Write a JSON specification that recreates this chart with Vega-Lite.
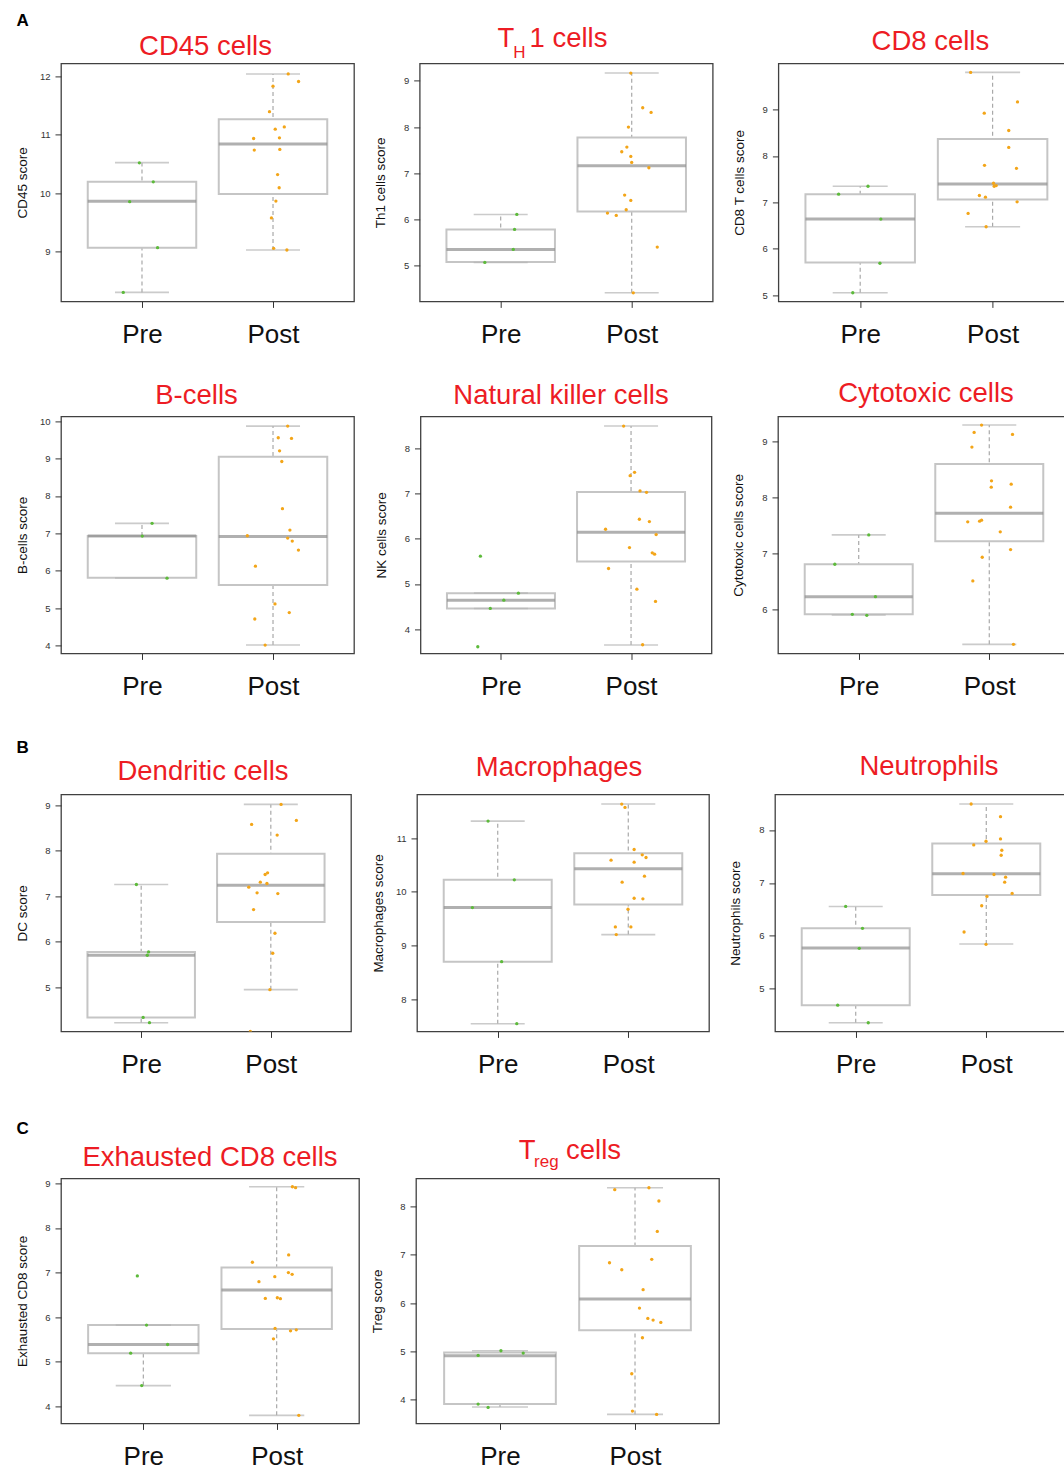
{
"$schema": "https://vega.github.io/schema/vega-lite/v6.json",
"background": "white",
"padding": {"left": 14, "top": 11.4, "right": 0, "bottom": 0},
"config": {
  "font": "Liberation Sans",
  "view": {"stroke": "#404040", "strokeWidth": 1.3},
  "axis": {"grid": false, "domain": false, "tickColor": "#333333", "tickSize": 6, "labelColor": "#333333"},
  "axisX": {"labelFontSize": 26, "labelColor": "#111111", "labelBaseline": "alphabetic", "labelPadding": 35, "labelFlush": false, "labelAngle": 0, "labelOverlap": false},
  "axisY": {"labelFontSize": 9.5, "labelPadding": 5, "labelOverlap": false, "format": "d", "titleFontSize": 13.5, "titleFontWeight": "normal", "titleColor": "#111111", "titleX": -35, "titleBaseline": "alphabetic"},
  "title": {"fontSize": 27.5, "color": "#ED1C24", "fontWeight": "normal", "anchor": "middle", "frame": "group", "baseline": "alphabetic"},
  "rule": {"color": "#a9a9a9", "strokeDash": [4, 3], "strokeWidth": 1.2},
  "bar": {"color": "#ffffff", "stroke": "#c5c5c5", "strokeWidth": 2},
  "tick": {"color": "#b5b5b5", "thickness": 1.6},
  "circle": {"size": 11, "opacity": 1}
},
"datasets": {
"pts": [
{"p":"CD45","g":"Pre","x":0.98,"v":10.52},{"p":"CD45","g":"Pre","x":1.086,"v":10.195},{"p":"CD45","g":"Pre","x":0.906,"v":9.856},{"p":"CD45","g":"Pre","x":1.119,"v":9.068},{"p":"CD45","g":"Pre","x":0.857,"v":8.304},
{"p":"CD45","g":"Post","x":2.116,"v":12.04},{"p":"CD45","g":"Post","x":2.195,"v":11.91},{"p":"CD45","g":"Post","x":2.0,"v":11.83},{"p":"CD45","g":"Post","x":1.973,"v":11.395},{"p":"CD45","g":"Post","x":2.017,"v":11.095},{"p":"CD45","g":"Post","x":2.086,"v":11.134},{"p":"CD45","g":"Post","x":1.852,"v":10.936},{"p":"CD45","g":"Post","x":2.049,"v":10.947},{"p":"CD45","g":"Post","x":1.857,"v":10.738},{"p":"CD45","g":"Post","x":2.052,"v":10.749},{"p":"CD45","g":"Post","x":2.035,"v":10.319},{"p":"CD45","g":"Post","x":2.047,"v":10.093},{"p":"CD45","g":"Post","x":2.022,"v":9.866},{"p":"CD45","g":"Post","x":1.988,"v":9.578},{"p":"CD45","g":"Post","x":2.005,"v":9.057},{"p":"CD45","g":"Post","x":2.106,"v":9.029},
{"p":"TH1","g":"Pre","x":1.123,"v":6.11},{"p":"TH1","g":"Pre","x":1.106,"v":5.786},{"p":"TH1","g":"Pre","x":1.096,"v":5.353},{"p":"TH1","g":"Pre","x":0.879,"v":5.072},
{"p":"TH1","g":"Post","x":1.993,"v":9.166},{"p":"TH1","g":"Post","x":2.084,"v":8.416},{"p":"TH1","g":"Post","x":2.148,"v":8.315},{"p":"TH1","g":"Post","x":1.975,"v":7.998},{"p":"TH1","g":"Post","x":1.963,"v":7.566},{"p":"TH1","g":"Post","x":1.924,"v":7.465},{"p":"TH1","g":"Post","x":1.993,"v":7.364},{"p":"TH1","g":"Post","x":2.0,"v":7.234},{"p":"TH1","g":"Post","x":2.131,"v":7.119},{"p":"TH1","g":"Post","x":1.946,"v":6.528},{"p":"TH1","g":"Post","x":1.993,"v":6.413},{"p":"TH1","g":"Post","x":1.958,"v":6.211},{"p":"TH1","g":"Post","x":1.815,"v":6.139},{"p":"TH1","g":"Post","x":1.882,"v":6.088},{"p":"TH1","g":"Post","x":2.195,"v":5.404},{"p":"TH1","g":"Post","x":2.012,"v":4.416},
{"p":"CD8","g":"Pre","x":1.059,"v":7.347},{"p":"CD8","g":"Pre","x":0.837,"v":7.175},{"p":"CD8","g":"Pre","x":1.156,"v":6.639},{"p":"CD8","g":"Pre","x":1.149,"v":5.687},{"p":"CD8","g":"Pre","x":0.944,"v":5.05},
{"p":"CD8","g":"Post","x":1.834,"v":9.801},{"p":"CD8","g":"Post","x":2.188,"v":9.165},{"p":"CD8","g":"Post","x":1.937,"v":8.921},{"p":"CD8","g":"Post","x":2.122,"v":8.549},{"p":"CD8","g":"Post","x":2.122,"v":8.184},{"p":"CD8","g":"Post","x":1.939,"v":7.798},{"p":"CD8","g":"Post","x":2.18,"v":7.733},{"p":"CD8","g":"Post","x":2.007,"v":7.411},{"p":"CD8","g":"Post","x":2.027,"v":7.361},{"p":"CD8","g":"Post","x":2.012,"v":7.347},{"p":"CD8","g":"Post","x":1.9,"v":7.147},{"p":"CD8","g":"Post","x":1.946,"v":7.111},{"p":"CD8","g":"Post","x":2.185,"v":7.011},{"p":"CD8","g":"Post","x":1.815,"v":6.76},{"p":"CD8","g":"Post","x":1.951,"v":6.474},
{"p":"B","g":"Pre","x":1.077,"v":7.268},{"p":"B","g":"Pre","x":1.002,"v":6.929},{"p":"B","g":"Pre","x":1.191,"v":5.804},
{"p":"B","g":"Post","x":2.112,"v":9.866},{"p":"B","g":"Post","x":2.04,"v":9.554},{"p":"B","g":"Post","x":2.141,"v":9.536},{"p":"B","g":"Post","x":2.05,"v":9.205},{"p":"B","g":"Post","x":2.067,"v":8.92},{"p":"B","g":"Post","x":2.072,"v":7.661},{"p":"B","g":"Post","x":2.129,"v":7.089},{"p":"B","g":"Post","x":1.804,"v":6.938},{"p":"B","g":"Post","x":2.112,"v":6.875},{"p":"B","g":"Post","x":2.147,"v":6.795},{"p":"B","g":"Post","x":2.194,"v":6.554},{"p":"B","g":"Post","x":1.866,"v":6.125},{"p":"B","g":"Post","x":2.015,"v":5.116},{"p":"B","g":"Post","x":2.124,"v":4.884},{"p":"B","g":"Post","x":1.861,"v":4.714},{"p":"B","g":"Post","x":1.94,"v":4.018},
{"p":"NK","g":"Pre","x":0.842,"v":5.616},{"p":"NK","g":"Pre","x":1.134,"v":4.797},{"p":"NK","g":"Pre","x":1.022,"v":4.642},{"p":"NK","g":"Pre","x":0.918,"v":4.458},{"p":"NK","g":"Pre","x":0.822,"v":3.609},
{"p":"NK","g":"Post","x":1.943,"v":8.502},{"p":"NK","g":"Post","x":2.027,"v":7.476},{"p":"NK","g":"Post","x":1.993,"v":7.402},{"p":"NK","g":"Post","x":2.069,"v":7.063},{"p":"NK","g":"Post","x":2.119,"v":7.033},{"p":"NK","g":"Post","x":2.064,"v":6.435},{"p":"NK","g":"Post","x":2.141,"v":6.384},{"p":"NK","g":"Post","x":1.804,"v":6.214},{"p":"NK","g":"Post","x":2.193,"v":6.096},{"p":"NK","g":"Post","x":1.988,"v":5.808},{"p":"NK","g":"Post","x":2.163,"v":5.69},{"p":"NK","g":"Post","x":2.181,"v":5.661},{"p":"NK","g":"Post","x":1.827,"v":5.343},{"p":"NK","g":"Post","x":2.045,"v":4.886},{"p":"NK","g":"Post","x":2.188,"v":4.613},{"p":"NK","g":"Post","x":2.089,"v":3.653},
{"p":"Cyto","g":"Pre","x":1.077,"v":7.324},{"p":"Cyto","g":"Pre","x":0.817,"v":6.8},{"p":"Cyto","g":"Pre","x":1.128,"v":6.221},{"p":"Cyto","g":"Pre","x":0.951,"v":5.905},{"p":"Cyto","g":"Pre","x":1.062,"v":5.887},
{"p":"Cyto","g":"Post","x":1.941,"v":9.286},{"p":"Cyto","g":"Post","x":1.884,"v":9.155},{"p":"Cyto","g":"Post","x":2.178,"v":9.119},{"p":"Cyto","g":"Post","x":1.867,"v":8.893},{"p":"Cyto","g":"Post","x":2.017,"v":8.29},{"p":"Cyto","g":"Post","x":2.015,"v":8.177},{"p":"Cyto","g":"Post","x":2.168,"v":8.231},{"p":"Cyto","g":"Post","x":2.163,"v":7.819},{"p":"Cyto","g":"Post","x":1.835,"v":7.557},{"p":"Cyto","g":"Post","x":1.926,"v":7.569},{"p":"Cyto","g":"Post","x":1.941,"v":7.587},{"p":"Cyto","g":"Post","x":2.084,"v":7.378},{"p":"Cyto","g":"Post","x":2.163,"v":7.062},{"p":"Cyto","g":"Post","x":1.946,"v":6.925},{"p":"Cyto","g":"Post","x":1.874,"v":6.502},{"p":"Cyto","g":"Post","x":2.185,"v":5.369},
{"p":"DC","g":"Pre","x":0.963,"v":7.261},{"p":"DC","g":"Pre","x":1.057,"v":5.778},{"p":"DC","g":"Pre","x":1.047,"v":5.705},{"p":"DC","g":"Pre","x":1.015,"v":4.339},{"p":"DC","g":"Pre","x":1.064,"v":4.222},
{"p":"DC","g":"Post","x":2.079,"v":9.022},{"p":"DC","g":"Post","x":2.197,"v":8.67},{"p":"DC","g":"Post","x":1.852,"v":8.582},{"p":"DC","g":"Post","x":2.049,"v":8.347},{"p":"DC","g":"Post","x":1.975,"v":7.517},{"p":"DC","g":"Post","x":1.956,"v":7.481},{"p":"DC","g":"Post","x":1.919,"v":7.312},{"p":"DC","g":"Post","x":1.97,"v":7.283},{"p":"DC","g":"Post","x":1.83,"v":7.202},{"p":"DC","g":"Post","x":1.894,"v":7.077},{"p":"DC","g":"Post","x":2.054,"v":7.062},{"p":"DC","g":"Post","x":1.867,"v":6.71},{"p":"DC","g":"Post","x":2.032,"v":6.189},{"p":"DC","g":"Post","x":2.015,"v":5.749},{"p":"DC","g":"Post","x":1.993,"v":4.949},{"p":"DC","g":"Post","x":1.842,"v":4.031},
{"p":"Mac","g":"Pre","x":0.926,"v":11.317},{"p":"Mac","g":"Pre","x":1.127,"v":10.224},{"p":"Mac","g":"Pre","x":0.806,"v":9.708},{"p":"Mac","g":"Pre","x":1.03,"v":8.702},{"p":"Mac","g":"Pre","x":1.146,"v":7.547},
{"p":"Mac","g":"Post","x":1.95,"v":11.634},{"p":"Mac","g":"Post","x":1.975,"v":11.571},{"p":"Mac","g":"Post","x":2.045,"v":10.789},{"p":"Mac","g":"Post","x":2.107,"v":10.689},{"p":"Mac","g":"Post","x":2.136,"v":10.64},{"p":"Mac","g":"Post","x":1.868,"v":10.59},{"p":"Mac","g":"Post","x":2.045,"v":10.553},{"p":"Mac","g":"Post","x":2.124,"v":10.292},{"p":"Mac","g":"Post","x":1.953,"v":10.18},{"p":"Mac","g":"Post","x":2.045,"v":9.882},{"p":"Mac","g":"Post","x":2.112,"v":9.87},{"p":"Mac","g":"Post","x":1.998,"v":9.677},{"p":"Mac","g":"Post","x":1.901,"v":9.348},{"p":"Mac","g":"Post","x":2.02,"v":9.348},{"p":"Mac","g":"Post","x":1.908,"v":9.205},
{"p":"Neu","g":"Pre","x":0.923,"v":6.556},{"p":"Neu","g":"Pre","x":1.052,"v":6.142},{"p":"Neu","g":"Pre","x":1.027,"v":5.765},{"p":"Neu","g":"Pre","x":0.862,"v":4.692},{"p":"Neu","g":"Pre","x":1.096,"v":4.359},
{"p":"Neu","g":"Post","x":1.884,"v":8.49},{"p":"Neu","g":"Post","x":2.109,"v":8.251},{"p":"Neu","g":"Post","x":2.109,"v":7.831},{"p":"Neu","g":"Post","x":1.998,"v":7.787},{"p":"Neu","g":"Post","x":1.904,"v":7.718},{"p":"Neu","g":"Post","x":2.119,"v":7.617},{"p":"Neu","g":"Post","x":2.114,"v":7.523},{"p":"Neu","g":"Post","x":1.822,"v":7.178},{"p":"Neu","g":"Post","x":2.059,"v":7.159},{"p":"Neu","g":"Post","x":2.148,"v":7.109},{"p":"Neu","g":"Post","x":2.141,"v":7.014},{"p":"Neu","g":"Post","x":2.198,"v":6.801},{"p":"Neu","g":"Post","x":2.005,"v":6.745},{"p":"Neu","g":"Post","x":1.965,"v":6.569},{"p":"Neu","g":"Post","x":1.83,"v":6.073},{"p":"Neu","g":"Post","x":1.998,"v":5.841},
{"p":"Exh","g":"Pre","x":0.955,"v":6.924},{"p":"Exh","g":"Pre","x":1.024,"v":5.822},{"p":"Exh","g":"Pre","x":1.182,"v":5.387},{"p":"Exh","g":"Pre","x":0.905,"v":5.192},{"p":"Exh","g":"Pre","x":0.988,"v":4.465},
{"p":"Exh","g":"Post","x":2.118,"v":8.925},{"p":"Exh","g":"Post","x":2.142,"v":8.903},{"p":"Exh","g":"Post","x":2.09,"v":7.396},{"p":"Exh","g":"Post","x":1.818,"v":7.231},{"p":"Exh","g":"Post","x":2.088,"v":6.999},{"p":"Exh","g":"Post","x":2.116,"v":6.961},{"p":"Exh","g":"Post","x":1.986,"v":6.909},{"p":"Exh","g":"Post","x":1.867,"v":6.796},{"p":"Exh","g":"Post","x":1.915,"v":6.421},{"p":"Exh","g":"Post","x":2.005,"v":6.436},{"p":"Exh","g":"Post","x":2.028,"v":6.414},{"p":"Exh","g":"Post","x":1.988,"v":5.747},{"p":"Exh","g":"Post","x":2.104,"v":5.694},{"p":"Exh","g":"Post","x":2.147,"v":5.717},{"p":"Exh","g":"Post","x":1.976,"v":5.514},{"p":"Exh","g":"Post","x":2.166,"v":3.798},
{"p":"Treg","g":"Pre","x":0.838,"v":4.913},{"p":"Treg","g":"Pre","x":1.007,"v":5.01},{"p":"Treg","g":"Pre","x":1.172,"v":4.962},{"p":"Treg","g":"Pre","x":0.838,"v":3.903},{"p":"Treg","g":"Pre","x":0.912,"v":3.834},
{"p":"Treg","g":"Post","x":1.85,"v":8.353},{"p":"Treg","g":"Post","x":2.103,"v":8.394},{"p":"Treg","g":"Post","x":2.177,"v":8.118},{"p":"Treg","g":"Post","x":2.165,"v":7.488},{"p":"Treg","g":"Post","x":1.811,"v":6.837},{"p":"Treg","g":"Post","x":1.902,"v":6.692},{"p":"Treg","g":"Post","x":2.124,"v":6.907},{"p":"Treg","g":"Post","x":2.06,"v":6.277},{"p":"Treg","g":"Post","x":2.033,"v":5.896},{"p":"Treg","g":"Post","x":2.095,"v":5.682},{"p":"Treg","g":"Post","x":2.134,"v":5.647},{"p":"Treg","g":"Post","x":2.191,"v":5.599},{"p":"Treg","g":"Post","x":2.055,"v":5.28},{"p":"Treg","g":"Post","x":1.976,"v":4.533},{"p":"Treg","g":"Post","x":1.981,"v":3.758},{"p":"Treg","g":"Post","x":2.16,"v":3.689}
],
"box": [
{"p":"CD45","g":"Pre","x":1,"lo":8.304,"q1":9.068,"md":9.861,"q3":10.195,"hi":10.523},
{"p":"CD45","g":"Post","x":2,"lo":9.029,"q1":9.985,"md":10.84,"q3":11.264,"hi":12.04},
{"p":"TH1","g":"Pre","x":1,"lo":5.072,"q1":5.079,"md":5.353,"q3":5.786,"hi":6.11},
{"p":"TH1","g":"Post","x":2,"lo":4.416,"q1":6.175,"md":7.162,"q3":7.775,"hi":9.166},
{"p":"CD8","g":"Pre","x":1,"lo":5.05,"q1":5.701,"md":6.639,"q3":7.175,"hi":7.347},
{"p":"CD8","g":"Post","x":2,"lo":6.474,"q1":7.061,"md":7.397,"q3":8.363,"hi":9.801},
{"p":"B","g":"Pre","x":1,"lo":5.81,"q1":5.813,"md":6.929,"q3":6.929,"hi":7.268},
{"p":"B","g":"Post","x":2,"lo":4.018,"q1":5.625,"md":6.92,"q3":9.045,"hi":9.866},
{"p":"NK","g":"Pre","x":1,"lo":4.458,"q1":4.458,"md":4.642,"q3":4.797,"hi":4.797},
{"p":"NK","g":"Post","x":2,"lo":3.646,"q1":5.498,"md":6.148,"q3":7.041,"hi":8.502},
{"p":"Cyto","g":"Pre","x":1,"lo":5.893,"q1":5.905,"md":6.221,"q3":6.8,"hi":7.324},
{"p":"Cyto","g":"Post","x":2,"lo":5.369,"q1":7.211,"md":7.712,"q3":8.589,"hi":9.286},
{"p":"DC","g":"Pre","x":1,"lo":4.222,"q1":4.339,"md":5.705,"q3":5.778,"hi":7.261},
{"p":"DC","g":"Post","x":2,"lo":4.949,"q1":6.439,"md":7.246,"q3":7.936,"hi":9.022},
{"p":"Mac","g":"Pre","x":1,"lo":7.547,"q1":8.702,"md":9.708,"q3":10.224,"hi":11.317},
{"p":"Mac","g":"Post","x":2,"lo":9.205,"q1":9.764,"md":10.429,"q3":10.72,"hi":11.634},
{"p":"Neu","g":"Pre","x":1,"lo":4.359,"q1":4.692,"md":5.771,"q3":6.142,"hi":6.556},
{"p":"Neu","g":"Post","x":2,"lo":5.847,"q1":6.77,"md":7.171,"q3":7.743,"hi":8.49},
{"p":"Exh","g":"Pre","x":1,"lo":4.465,"q1":5.192,"md":5.387,"q3":5.822,"hi":5.822},
{"p":"Exh","g":"Post","x":2,"lo":3.798,"q1":5.732,"md":6.609,"q3":7.111,"hi":8.925},
{"p":"Treg","g":"Pre","x":1,"lo":3.841,"q1":3.903,"md":4.907,"q3":4.976,"hi":5.01},
{"p":"Treg","g":"Post","x":2,"lo":3.689,"q1":5.433,"md":6.083,"q3":7.183,"hi":8.394}
]
},
"vconcat": [
{
"vconcat": [
{"title": {"text": "A", "anchor": "start", "fontSize": 17, "fontWeight": "bold", "color": "#000000", "offset": -5.3, "dx": -44.5},
"hconcat": [
{"width":293,"height":238,"title":{"text":"CD45 cells","offset":2.7,"dx":-2},
"encoding":{"x":{"field":"x","type":"quantitative","scale":{"domain":[0.42,2.58],"nice":false,"zero":false},"axis":{"values":[1,2],"labelExpr":"datum.value == 1 ? 'Pre' : 'Post'","title":null}}},
"layer":[
{"data":{"name":"box"},"transform":[{"filter":"datum.p == 'CD45'"}],"mark":"rule","encoding":{"y":{"field":"lo","type":"quantitative","scale":{"zero":false}},"y2":{"field":"hi"}}},
{"data":{"name":"box"},"transform":[{"filter":"datum.p == 'CD45'"}],"mark":{"type":"bar","size":108.5},"encoding":{"y":{"field":"q1","type":"quantitative","scale":{"zero":false}},"y2":{"field":"q3"}}},
{"data":{"name":"box"},"transform":[{"filter":"datum.p == 'CD45'"}],"mark":{"type":"tick","orient":"horizontal","size":108.5,"thickness":3,"color":"#8e8e8e"},"encoding":{"y":{"field":"md","type":"quantitative","scale":{"zero":false}}}},
{"data":{"name":"box"},"transform":[{"filter":"datum.p == 'CD45'"},{"fold":["lo","hi"],"as":["k","c"]}],"mark":{"type":"tick","orient":"horizontal","size":54},"encoding":{"y":{"field":"c","type":"quantitative","scale":{"zero":false}}}},
{"data":{"name":"pts"},"transform":[{"filter":"datum.p == 'CD45'"}],"mark":{"type":"circle","clip":true},"encoding":{"y":{"field":"v","type":"quantitative","scale":{"domain":[8.15,12.22],"nice":false,"zero":false},"axis":{"values":[9,10,11,12],"format":"d","tickCount":12,"title":"CD45 score"}},"color":{"field":"g","type":"nominal","scale":{"domain":["Pre","Post"],"range":["#5dba3b","#f3a518"]},"legend":null}}}
]},
{"width":293,"height":238,"title":{"text":"T\u00a0\u00a01 cells","subtitle":"H\u00a0\u00a0\u00a0\u00a0\u00a0\u00a0\u00a0\u00a0\u00a0\u00a0\u00a0\u00a0\u00a0\u00a0\u200d","subtitleFontSize":17,"subtitleColor":"#ED1C24","subtitlePadding":-7.8,"offset":2.2,"dx":-13.8},
"encoding":{"x":{"field":"x","type":"quantitative","scale":{"domain":[0.42,2.58],"nice":false,"zero":false},"axis":{"values":[1,2],"labelExpr":"datum.value == 1 ? 'Pre' : 'Post'","title":null}}},
"layer":[
{"data":{"name":"box"},"transform":[{"filter":"datum.p == 'TH1'"}],"mark":"rule","encoding":{"y":{"field":"lo","type":"quantitative","scale":{"zero":false}},"y2":{"field":"hi"}}},
{"data":{"name":"box"},"transform":[{"filter":"datum.p == 'TH1'"}],"mark":{"type":"bar","size":108.5},"encoding":{"y":{"field":"q1","type":"quantitative","scale":{"zero":false}},"y2":{"field":"q3"}}},
{"data":{"name":"box"},"transform":[{"filter":"datum.p == 'TH1'"}],"mark":{"type":"tick","orient":"horizontal","size":108.5,"thickness":3,"color":"#8e8e8e"},"encoding":{"y":{"field":"md","type":"quantitative","scale":{"zero":false}}}},
{"data":{"name":"box"},"transform":[{"filter":"datum.p == 'TH1'"},{"fold":["lo","hi"],"as":["k","c"]}],"mark":{"type":"tick","orient":"horizontal","size":54},"encoding":{"y":{"field":"c","type":"quantitative","scale":{"zero":false}}}},
{"data":{"name":"pts"},"transform":[{"filter":"datum.p == 'TH1'"}],"mark":{"type":"circle","clip":true},"encoding":{"y":{"field":"v","type":"quantitative","scale":{"domain":[4.23,9.375],"nice":false,"zero":false},"axis":{"values":[5,6,7,8,9],"format":"d","tickCount":12,"title":"Th1 cells score"}},"color":{"field":"g","type":"nominal","scale":{"domain":["Pre","Post"],"range":["#5dba3b","#f3a518"]},"legend":null}}}
]},
{"width":296,"height":238,"title":{"text":"CD8 cells","offset":8,"dx":4},
"encoding":{"x":{"field":"x","type":"quantitative","scale":{"domain":[0.42,2.58],"nice":false,"zero":false},"axis":{"values":[1,2],"labelExpr":"datum.value == 1 ? 'Pre' : 'Post'","title":null}}},
"layer":[
{"data":{"name":"box"},"transform":[{"filter":"datum.p == 'CD8'"}],"mark":"rule","encoding":{"y":{"field":"lo","type":"quantitative","scale":{"zero":false}},"y2":{"field":"hi"}}},
{"data":{"name":"box"},"transform":[{"filter":"datum.p == 'CD8'"}],"mark":{"type":"bar","size":109.5},"encoding":{"y":{"field":"q1","type":"quantitative","scale":{"zero":false}},"y2":{"field":"q3"}}},
{"data":{"name":"box"},"transform":[{"filter":"datum.p == 'CD8'"}],"mark":{"type":"tick","orient":"horizontal","size":109.5,"thickness":3,"color":"#8e8e8e"},"encoding":{"y":{"field":"md","type":"quantitative","scale":{"zero":false}}}},
{"data":{"name":"box"},"transform":[{"filter":"datum.p == 'CD8'"},{"fold":["lo","hi"],"as":["k","c"]}],"mark":{"type":"tick","orient":"horizontal","size":55},"encoding":{"y":{"field":"c","type":"quantitative","scale":{"zero":false}}}},
{"data":{"name":"pts"},"transform":[{"filter":"datum.p == 'CD8'"}],"mark":{"type":"circle","clip":true},"encoding":{"y":{"field":"v","type":"quantitative","scale":{"domain":[4.864,9.995],"nice":false,"zero":false},"axis":{"values":[5,6,7,8,9],"format":"d","tickCount":12,"title":"CD8 T cells score"}},"color":{"field":"g","type":"nominal","scale":{"domain":["Pre","Post"],"range":["#5dba3b","#f3a518"]},"legend":null}}}
]}
], "spacing": 65.7, "bounds": "flush"},
{"hconcat": [
{"width":293,"height":237,"title":{"text":"B-cells","offset":6.7,"dx":-11},
"encoding":{"x":{"field":"x","type":"quantitative","scale":{"domain":[0.42,2.58],"nice":false,"zero":false},"axis":{"values":[1,2],"labelExpr":"datum.value == 1 ? 'Pre' : 'Post'","title":null}}},
"layer":[
{"data":{"name":"box"},"transform":[{"filter":"datum.p == 'B'"}],"mark":"rule","encoding":{"y":{"field":"lo","type":"quantitative","scale":{"zero":false}},"y2":{"field":"hi"}}},
{"data":{"name":"box"},"transform":[{"filter":"datum.p == 'B'"}],"mark":{"type":"bar","size":108.5},"encoding":{"y":{"field":"q1","type":"quantitative","scale":{"zero":false}},"y2":{"field":"q3"}}},
{"data":{"name":"box"},"transform":[{"filter":"datum.p == 'B'"}],"mark":{"type":"tick","orient":"horizontal","size":108.5,"thickness":3,"color":"#8e8e8e"},"encoding":{"y":{"field":"md","type":"quantitative","scale":{"zero":false}}}},
{"data":{"name":"box"},"transform":[{"filter":"datum.p == 'B'"},{"fold":["lo","hi"],"as":["k","c"]}],"mark":{"type":"tick","orient":"horizontal","size":54},"encoding":{"y":{"field":"c","type":"quantitative","scale":{"zero":false}}}},
{"data":{"name":"pts"},"transform":[{"filter":"datum.p == 'B'"}],"mark":{"type":"circle","clip":true},"encoding":{"y":{"field":"v","type":"quantitative","scale":{"domain":[3.795,10.125],"nice":false,"zero":false},"axis":{"values":[4,5,6,7,8,9,10],"format":"d","tickCount":12,"labelOverlap":false,"title":"B-cells score"}},"color":{"field":"g","type":"nominal","scale":{"domain":["Pre","Post"],"range":["#5dba3b","#f3a518"]},"legend":null}}}
]},
{"width":291,"height":237,"title":{"text":"Natural killer cells","offset":6.7,"dx":-5},
"encoding":{"x":{"field":"x","type":"quantitative","scale":{"domain":[0.42,2.58],"nice":false,"zero":false},"axis":{"values":[1,2],"labelExpr":"datum.value == 1 ? 'Pre' : 'Post'","title":null}}},
"layer":[
{"data":{"name":"box"},"transform":[{"filter":"datum.p == 'NK'"}],"mark":"rule","encoding":{"y":{"field":"lo","type":"quantitative","scale":{"zero":false}},"y2":{"field":"hi"}}},
{"data":{"name":"box"},"transform":[{"filter":"datum.p == 'NK'"}],"mark":{"type":"bar","size":108},"encoding":{"y":{"field":"q1","type":"quantitative","scale":{"zero":false}},"y2":{"field":"q3"}}},
{"data":{"name":"box"},"transform":[{"filter":"datum.p == 'NK'"}],"mark":{"type":"tick","orient":"horizontal","size":108,"thickness":3,"color":"#8e8e8e"},"encoding":{"y":{"field":"md","type":"quantitative","scale":{"zero":false}}}},
{"data":{"name":"box"},"transform":[{"filter":"datum.p == 'NK'"},{"fold":["lo","hi"],"as":["k","c"]}],"mark":{"type":"tick","orient":"horizontal","size":54},"encoding":{"y":{"field":"c","type":"quantitative","scale":{"zero":false}}}},
{"data":{"name":"pts"},"transform":[{"filter":"datum.p == 'NK'"}],"mark":{"type":"circle","clip":true},"encoding":{"y":{"field":"v","type":"quantitative","scale":{"domain":[3.461,8.716],"nice":false,"zero":false},"axis":{"values":[4,5,6,7,8],"format":"d","tickCount":12,"title":"NK cells score"}},"color":{"field":"g","type":"nominal","scale":{"domain":["Pre","Post"],"range":["#5dba3b","#f3a518"]},"legend":null}}}
]},
{"width":292,"height":237,"title":{"text":"Cytotoxic cells","offset":9,"dx":2},
"encoding":{"x":{"field":"x","type":"quantitative","scale":{"domain":[0.42,2.58],"nice":false,"zero":false},"axis":{"values":[1,2],"labelExpr":"datum.value == 1 ? 'Pre' : 'Post'","title":null}}},
"layer":[
{"data":{"name":"box"},"transform":[{"filter":"datum.p == 'Cyto'"}],"mark":"rule","encoding":{"y":{"field":"lo","type":"quantitative","scale":{"zero":false}},"y2":{"field":"hi"}}},
{"data":{"name":"box"},"transform":[{"filter":"datum.p == 'Cyto'"}],"mark":{"type":"bar","size":108},"encoding":{"y":{"field":"q1","type":"quantitative","scale":{"zero":false}},"y2":{"field":"q3"}}},
{"data":{"name":"box"},"transform":[{"filter":"datum.p == 'Cyto'"}],"mark":{"type":"tick","orient":"horizontal","size":108,"thickness":3,"color":"#8e8e8e"},"encoding":{"y":{"field":"md","type":"quantitative","scale":{"zero":false}}}},
{"data":{"name":"box"},"transform":[{"filter":"datum.p == 'Cyto'"},{"fold":["lo","hi"],"as":["k","c"]}],"mark":{"type":"tick","orient":"horizontal","size":54},"encoding":{"y":{"field":"c","type":"quantitative","scale":{"zero":false}}}},
{"data":{"name":"pts"},"transform":[{"filter":"datum.p == 'Cyto'"}],"mark":{"type":"circle","clip":true},"encoding":{"y":{"field":"v","type":"quantitative","scale":{"domain":[5.207,9.441],"nice":false,"zero":false},"axis":{"values":[6,7,8,9],"format":"d","tickCount":12,"title":"Cytotoxic cells score"}},"color":{"field":"g","type":"nominal","scale":{"domain":["Pre","Post"],"range":["#5dba3b","#f3a518"]},"legend":null}}}
]}
], "spacing": 66.5, "bounds": "flush"}
], "spacing": 30},
{
"vconcat": [
{"title": {"text": "B", "anchor": "start", "fontSize": 17, "fontWeight": "bold", "color": "#000000", "offset": -4.3, "dx": -44.5},
"hconcat": [
{"width":290,"height":237,"title":{"text":"Dendritic cells","offset":8.7,"dx":-3},
"encoding":{"x":{"field":"x","type":"quantitative","scale":{"domain":[0.42,2.58],"nice":false,"zero":false},"axis":{"values":[1,2],"labelExpr":"datum.value == 1 ? 'Pre' : 'Post'","title":null}}},
"layer":[
{"data":{"name":"box"},"transform":[{"filter":"datum.p == 'DC'"}],"mark":"rule","encoding":{"y":{"field":"lo","type":"quantitative","scale":{"zero":false}},"y2":{"field":"hi"}}},
{"data":{"name":"box"},"transform":[{"filter":"datum.p == 'DC'"}],"mark":{"type":"bar","size":107.5},"encoding":{"y":{"field":"q1","type":"quantitative","scale":{"zero":false}},"y2":{"field":"q3"}}},
{"data":{"name":"box"},"transform":[{"filter":"datum.p == 'DC'"}],"mark":{"type":"tick","orient":"horizontal","size":107.5,"thickness":3,"color":"#8e8e8e"},"encoding":{"y":{"field":"md","type":"quantitative","scale":{"zero":false}}}},
{"data":{"name":"box"},"transform":[{"filter":"datum.p == 'DC'"},{"fold":["lo","hi"],"as":["k","c"]}],"mark":{"type":"tick","orient":"horizontal","size":54},"encoding":{"y":{"field":"c","type":"quantitative","scale":{"zero":false}}}},
{"data":{"name":"pts"},"transform":[{"filter":"datum.p == 'DC'"}],"mark":{"type":"circle","clip":true},"encoding":{"y":{"field":"v","type":"quantitative","scale":{"domain":[4.031,9.242],"nice":false,"zero":false},"axis":{"values":[5,6,7,8,9],"format":"d","tickCount":12,"title":"DC score"}},"color":{"field":"g","type":"nominal","scale":{"domain":["Pre","Post"],"range":["#5dba3b","#f3a518"]},"legend":null}}}
]},
{"width":292,"height":237,"title":{"text":"Macrophages","offset":12.4,"dx":-4},
"encoding":{"x":{"field":"x","type":"quantitative","scale":{"domain":[0.42,2.58],"nice":false,"zero":false},"axis":{"values":[1,2],"labelExpr":"datum.value == 1 ? 'Pre' : 'Post'","title":null}}},
"layer":[
{"data":{"name":"box"},"transform":[{"filter":"datum.p == 'Mac'"}],"mark":"rule","encoding":{"y":{"field":"lo","type":"quantitative","scale":{"zero":false}},"y2":{"field":"hi"}}},
{"data":{"name":"box"},"transform":[{"filter":"datum.p == 'Mac'"}],"mark":{"type":"bar","size":108},"encoding":{"y":{"field":"q1","type":"quantitative","scale":{"zero":false}},"y2":{"field":"q3"}}},
{"data":{"name":"box"},"transform":[{"filter":"datum.p == 'Mac'"}],"mark":{"type":"tick","orient":"horizontal","size":108,"thickness":3,"color":"#8e8e8e"},"encoding":{"y":{"field":"md","type":"quantitative","scale":{"zero":false}}}},
{"data":{"name":"box"},"transform":[{"filter":"datum.p == 'Mac'"},{"fold":["lo","hi"],"as":["k","c"]}],"mark":{"type":"tick","orient":"horizontal","size":54},"encoding":{"y":{"field":"c","type":"quantitative","scale":{"zero":false}}}},
{"data":{"name":"pts"},"transform":[{"filter":"datum.p == 'Mac'"}],"mark":{"type":"circle","clip":true},"encoding":{"y":{"field":"v","type":"quantitative","scale":{"domain":[7.404,11.814],"nice":false,"zero":false},"axis":{"values":[8,9,10,11],"format":"d","tickCount":12,"title":"Macrophages score"}},"color":{"field":"g","type":"nominal","scale":{"domain":["Pre","Post"],"range":["#5dba3b","#f3a518"]},"legend":null}}}
]},
{"width":292,"height":237,"title":{"text":"Neutrophils","offset":13.7,"dx":8},
"encoding":{"x":{"field":"x","type":"quantitative","scale":{"domain":[0.42,2.58],"nice":false,"zero":false},"axis":{"values":[1,2],"labelExpr":"datum.value == 1 ? 'Pre' : 'Post'","title":null}}},
"layer":[
{"data":{"name":"box"},"transform":[{"filter":"datum.p == 'Neu'"}],"mark":"rule","encoding":{"y":{"field":"lo","type":"quantitative","scale":{"zero":false}},"y2":{"field":"hi"}}},
{"data":{"name":"box"},"transform":[{"filter":"datum.p == 'Neu'"}],"mark":{"type":"bar","size":108},"encoding":{"y":{"field":"q1","type":"quantitative","scale":{"zero":false}},"y2":{"field":"q3"}}},
{"data":{"name":"box"},"transform":[{"filter":"datum.p == 'Neu'"}],"mark":{"type":"tick","orient":"horizontal","size":108,"thickness":3,"color":"#8e8e8e"},"encoding":{"y":{"field":"md","type":"quantitative","scale":{"zero":false}}}},
{"data":{"name":"box"},"transform":[{"filter":"datum.p == 'Neu'"},{"fold":["lo","hi"],"as":["k","c"]}],"mark":{"type":"tick","orient":"horizontal","size":54},"encoding":{"y":{"field":"c","type":"quantitative","scale":{"zero":false}}}},
{"data":{"name":"pts"},"transform":[{"filter":"datum.p == 'Neu'"}],"mark":{"type":"circle","clip":true},"encoding":{"y":{"field":"v","type":"quantitative","scale":{"domain":[4.196,8.672],"nice":false,"zero":false},"axis":{"values":[5,6,7,8],"format":"d","tickCount":12,"title":"Neutrophils score"}},"color":{"field":"g","type":"nominal","scale":{"domain":["Pre","Post"],"range":["#5dba3b","#f3a518"]},"legend":null}}}
]}
], "spacing": 66, "bounds": "flush"},
{"title": {"text": "C", "anchor": "start", "fontSize": 17, "fontWeight": "bold", "color": "#000000", "offset": -2, "dx": -44.5},
"hconcat": [
{"width":298,"height":245,"title":{"text":"Exhausted CD8 cells","offset":6.6,"dx":0},
"encoding":{"x":{"field":"x","type":"quantitative","scale":{"domain":[0.42,2.58],"nice":false,"zero":false},"axis":{"values":[1,2],"labelExpr":"datum.value == 1 ? 'Pre' : 'Post'","title":null}}},
"layer":[
{"data":{"name":"box"},"transform":[{"filter":"datum.p == 'Exh'"}],"mark":"rule","encoding":{"y":{"field":"lo","type":"quantitative","scale":{"zero":false}},"y2":{"field":"hi"}}},
{"data":{"name":"box"},"transform":[{"filter":"datum.p == 'Exh'"}],"mark":{"type":"bar","size":110.4},"encoding":{"y":{"field":"q1","type":"quantitative","scale":{"zero":false}},"y2":{"field":"q3"}}},
{"data":{"name":"box"},"transform":[{"filter":"datum.p == 'Exh'"}],"mark":{"type":"tick","orient":"horizontal","size":110.4,"thickness":3,"color":"#8e8e8e"},"encoding":{"y":{"field":"md","type":"quantitative","scale":{"zero":false}}}},
{"data":{"name":"box"},"transform":[{"filter":"datum.p == 'Exh'"},{"fold":["lo","hi"],"as":["k","c"]}],"mark":{"type":"tick","orient":"horizontal","size":55.2},"encoding":{"y":{"field":"c","type":"quantitative","scale":{"zero":false}}}},
{"data":{"name":"pts"},"transform":[{"filter":"datum.p == 'Exh'"}],"mark":{"type":"circle","clip":true},"encoding":{"y":{"field":"v","type":"quantitative","scale":{"domain":[3.618,9.112],"nice":false,"zero":false},"axis":{"values":[4,5,6,7,8,9],"format":"d","tickCount":12,"title":"Exhausted CD8 score"}},"color":{"field":"g","type":"nominal","scale":{"domain":["Pre","Post"],"range":["#5dba3b","#f3a518"]},"legend":null}}}
]},
{"width":303,"height":245,"title":{"text":"T\u00a0\u00a0\u00a0\u00a0cells","subtitle":"reg\u00a0\u00a0\u00a0\u00a0\u00a0\u00a0\u00a0\u00a0\u00a0\u00a0\u200d","subtitleFontSize":17,"subtitleColor":"#ED1C24","subtitlePadding":-10.5,"offset":8.3,"dx":2.4},
"encoding":{"x":{"field":"x","type":"quantitative","scale":{"domain":[0.415,2.585],"nice":false,"zero":false},"axis":{"values":[1,2],"labelExpr":"datum.value == 1 ? 'Pre' : 'Post'","title":null}}},
"layer":[
{"data":{"name":"box"},"transform":[{"filter":"datum.p == 'Treg'"}],"mark":"rule","encoding":{"y":{"field":"lo","type":"quantitative","scale":{"zero":false}},"y2":{"field":"hi"}}},
{"data":{"name":"box"},"transform":[{"filter":"datum.p == 'Treg'"}],"mark":{"type":"bar","size":111.7},"encoding":{"y":{"field":"q1","type":"quantitative","scale":{"zero":false}},"y2":{"field":"q3"}}},
{"data":{"name":"box"},"transform":[{"filter":"datum.p == 'Treg'"}],"mark":{"type":"tick","orient":"horizontal","size":111.7,"thickness":3,"color":"#8e8e8e"},"encoding":{"y":{"field":"md","type":"quantitative","scale":{"zero":false}}}},
{"data":{"name":"box"},"transform":[{"filter":"datum.p == 'Treg'"},{"fold":["lo","hi"],"as":["k","c"]}],"mark":{"type":"tick","orient":"horizontal","size":56},"encoding":{"y":{"field":"c","type":"quantitative","scale":{"zero":false}}}},
{"data":{"name":"pts"},"transform":[{"filter":"datum.p == 'Treg'"}],"mark":{"type":"circle","clip":true},"encoding":{"y":{"field":"v","type":"quantitative","scale":{"domain":[3.502,8.588],"nice":false,"zero":false},"axis":{"values":[4,5,6,7,8],"format":"d","tickCount":12,"title":"Treg score"}},"color":{"field":"g","type":"nominal","scale":{"domain":["Pre","Post"],"range":["#5dba3b","#f3a518"]},"legend":null}}}
]}
], "spacing": 57, "bounds": "flush"}
], "spacing": 42}
],
"spacing": 38
}
